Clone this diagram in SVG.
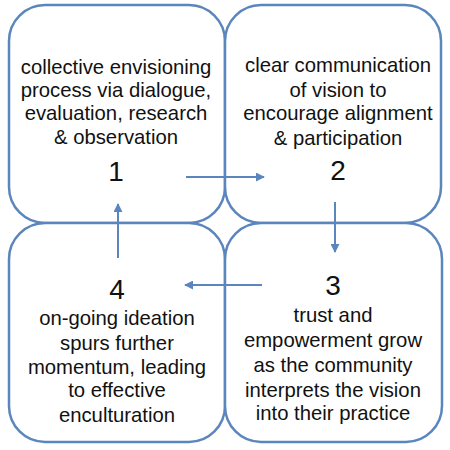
<svg xmlns="http://www.w3.org/2000/svg" width="450" height="450" viewBox="0 0 450 450">
<defs>
<style>
.box{fill:#ffffff;stroke:#5b86bd;stroke-width:2.5}
.t{font-family:"Liberation Sans",Arial,sans-serif;font-size:20.3px;fill:#111111;text-anchor:middle}
.n{font-family:"Liberation Sans",Arial,sans-serif;font-size:28px;fill:#111111;text-anchor:middle}
.c{stroke:#5b86bd;stroke-width:2;fill:none;marker-end:url(#ah)}
</style>
<marker id="ah" viewBox="0 0 10 10" refX="9" refY="5" markerWidth="4.5" markerHeight="4.5" orient="auto" markerUnits="strokeWidth">
<path d="M0,0 L10,5 L0,10 z" fill="#5b86bd"/>
</marker>
</defs>
<rect width="450" height="450" fill="#ffffff"/>
<g id="node1">
<rect class="box" x="9" y="5" width="216" height="218" rx="36" ry="36"/>
<text class="t" x="116" y="74">collective envisioning</text>
<text class="t" x="116" y="97">process via dialogue,</text>
<text class="t" x="116" y="120">evaluation, research</text>
<text class="t" x="116" y="144">&amp; observation</text>
<text class="n" x="116" y="181">1</text>
</g>
<g id="node2">
<rect class="box" x="225" y="5" width="216" height="218" rx="36" ry="36"/>
<text class="t" x="338" y="72">clear communication</text>
<text class="t" x="338" y="97">of vision to</text>
<text class="t" x="338" y="120">encourage alignment</text>
<text class="t" x="338" y="145">&amp; participation</text>
<text class="n" x="338" y="180">2</text>
</g>
<g id="node4">
<rect class="box" x="9" y="223" width="216" height="219" rx="36" ry="36"/>
<text class="n" x="117" y="299">4</text>
<text class="t" x="117" y="325">on-going ideation</text>
<text class="t" x="117" y="350">spurs further</text>
<text class="t" x="117" y="374">momentum, leading</text>
<text class="t" x="117" y="397">to effective</text>
<text class="t" x="117" y="422">enculturation</text>
</g>
<g id="node3">
<rect class="box" x="225" y="223" width="217" height="219" rx="36" ry="36"/>
<text class="n" x="333" y="295">3</text>
<text class="t" x="333" y="322">trust and</text>
<text class="t" x="333" y="347">empowerment grow</text>
<text class="t" x="333" y="372">as the community</text>
<text class="t" x="333" y="397">interprets the vision</text>
<text class="t" x="333" y="420">into their practice</text>
</g>
<g id="connectors">
<line class="c" x1="186" y1="177" x2="264" y2="177"/>
<line class="c" x1="335" y1="202" x2="335" y2="252"/>
<line class="c" x1="262" y1="285" x2="185" y2="285"/>
<line class="c" x1="118" y1="258" x2="118" y2="204"/>
</g>
</svg>
